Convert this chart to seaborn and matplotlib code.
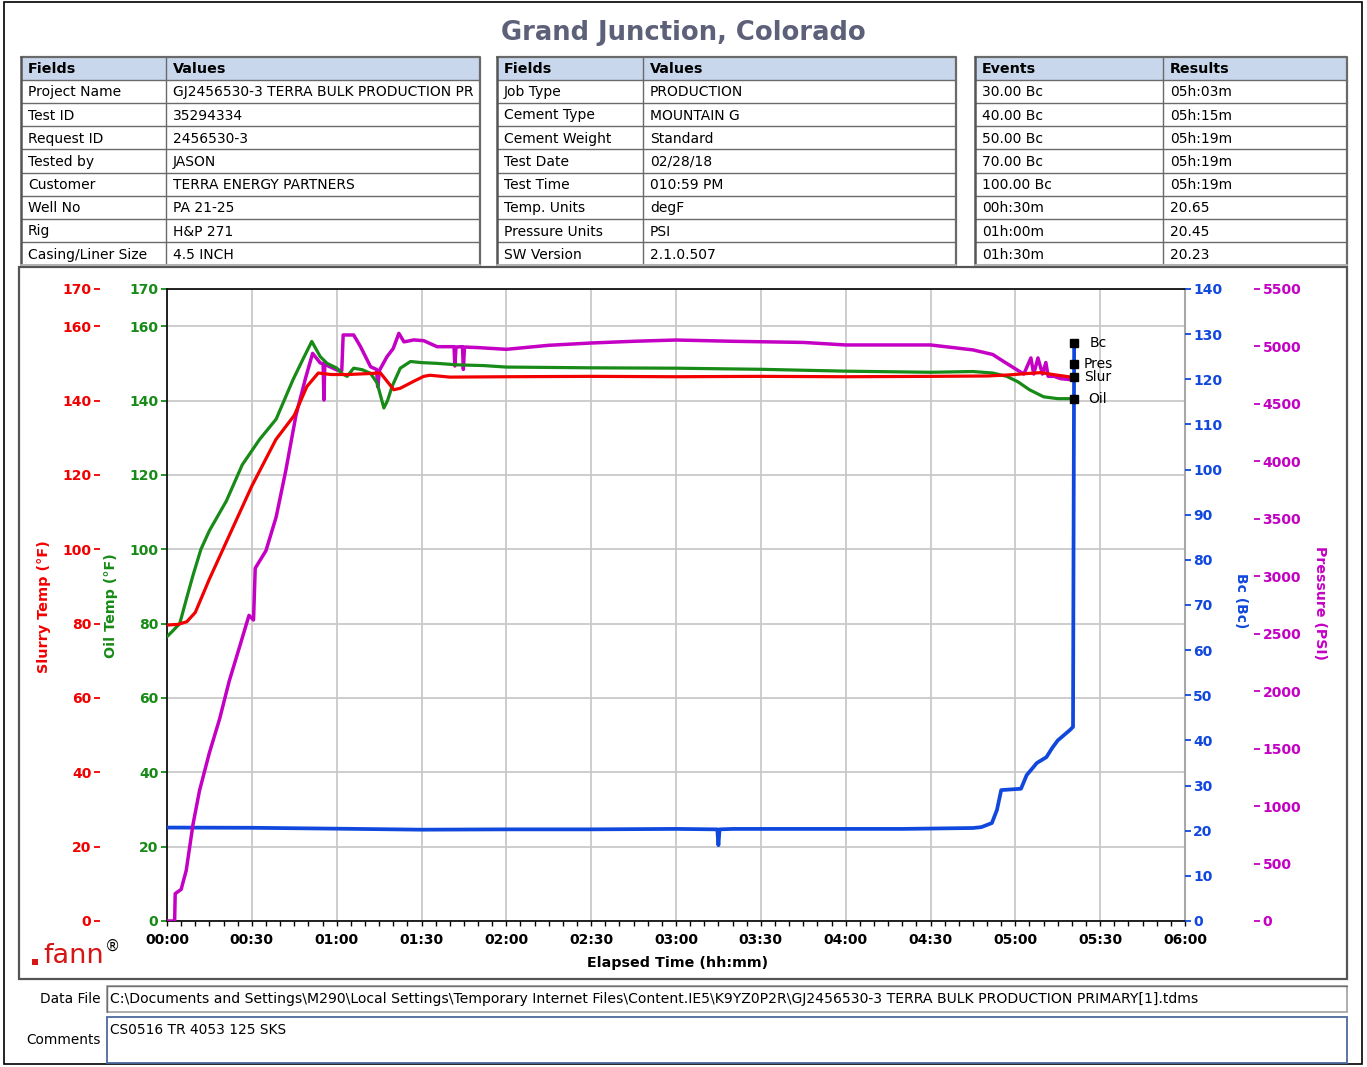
import numpy as np
import pandas as pd
import matplotlib
matplotlib.use("Agg")
import matplotlib.pyplot as plt
from matplotlib.patches import Rectangle
from matplotlib.ticker import MultipleLocator, FuncFormatter
import seaborn as sns

# ---------------- data ----------------
title = "Grand Junction, Colorado"

fields1 = ["Project Name", "Test ID", "Request ID", "Tested by", "Customer",
           "Well No", "Rig", "Casing/Liner Size"]
values1 = ["GJ2456530-3 TERRA BULK PRODUCTION PR", "35294334", "2456530-3", "JASON",
           "TERRA ENERGY PARTNERS", "PA 21-25", "H&P 271", "4.5 INCH"]
fields2 = ["Job Type", "Cement Type", "Cement Weight", "Test Date", "Test Time",
           "Temp. Units", "Pressure Units", "SW Version"]
values2 = ["PRODUCTION", "MOUNTAIN G", "Standard", "02/28/18", "010:59 PM",
           "degF", "PSI", "2.1.0.507"]
events = ["30.00 Bc", "40.00 Bc", "50.00 Bc", "70.00 Bc", "100.00 Bc",
          "00h:30m", "01h:00m", "01h:30m"]
results = ["05h:03m", "05h:15m", "05h:19m", "05h:19m", "05h:19m",
           "20.65", "20.45", "20.23"]

data_file = r"C:\Documents and Settings\M290\Local Settings\Temporary Internet Files\Content.IE5\K9YZ0P2R\GJ2456530-3 TERRA BULK PRODUCTION PRIMARY[1].tdms"
comments = "CS0516 TR 4053 125 SKS"

# elapsed time in minutes
slurry_t = [0, 4, 7, 10, 15, 21, 30, 38.5, 45, 49.5, 53.5, 58, 64, 70, 75.5, 77.8, 80.2,
            82.5, 87.3, 90.8, 93, 100, 120, 150, 180, 210, 240, 270, 290, 298, 303, 309,
            315, 320.8]
slurry_v = [79.6, 79.8, 80.5, 83, 92, 102, 117, 129.5, 136, 143.8, 147.4, 147, 147, 147.2,
            147.4, 145.2, 142.9, 143.3, 145.2, 146.5, 146.8, 146.3, 146.4, 146.5, 146.4,
            146.5, 146.4, 146.5, 146.6, 146.9, 147.2, 147.5, 146.8, 146.2]

oil_t = [0, 2, 4.5, 7, 9.2, 12, 15, 21, 26.6, 32.7, 38.6, 44.5, 48, 51.2, 54.2, 56.6, 60.1,
         61.7, 63.7, 66, 69, 72, 74.3, 76.7, 78, 79.6, 82.5, 86.1, 90, 95.5, 102.6, 112,
         120, 150, 180, 210, 240, 270, 285, 292, 297, 301, 305, 310, 315, 320.8]
oil_v = [76.5, 78, 80, 87, 93, 100, 105, 113, 122.7, 129.5, 135, 145.5, 151, 155.9, 151.8,
         150, 148.7, 147.3, 146.5, 148.7, 148.3, 147.3, 144.7, 138, 140, 143.8, 148.7,
         150.5, 150.2, 150, 149.6, 149.4, 149, 148.8, 148.7, 148.4, 147.9, 147.6, 147.8,
         147.4, 146.5, 145, 142.9, 141, 140.5, 140.5]

bc_t = [0, 30, 60, 90, 120, 150, 180, 194.6, 195.0, 195.4, 200, 230, 260, 285, 288, 291.7,
        293.5, 295, 302, 304, 307.6, 311, 313, 315, 319.3, 320.4, 320.8]
bc_v = [20.7, 20.65, 20.45, 20.23, 20.3, 20.3, 20.4, 20.3, 16.8, 20.3, 20.4, 20.4, 20.4,
        20.6, 20.8, 21.7, 24.6, 29, 29.3, 32.3, 35, 36.3, 38.3, 40, 42.3, 43, 128]

pres_t = [0, 2.7, 2.9, 5, 6.8, 9.2, 11.5, 15, 18.6, 22, 25.6, 29, 30.6, 31.2, 35, 38.6, 42,
          45.6, 49, 51.5, 54.2, 55.2, 55.5, 55.8, 57, 60.1, 61.8, 62.3, 66, 68.4, 72, 74.1,
          74.5, 75.2, 77.8, 80, 82, 83.8, 87.3, 90.8, 95.5, 101.5, 101.8, 102.2, 104.5,
          104.8, 105.2, 110, 120, 135, 150, 165, 180, 200, 225, 240, 270, 285, 292, 296,
          301, 303, 305.5, 306.5, 308, 309.6, 310.8, 311.6, 313.7, 316, 320.8]
pres_v = [0, 0, 238, 275, 440, 842, 1135, 1465, 1758, 2088, 2381, 2660, 2620, 3070, 3223,
          3516, 3919, 4400, 4725, 4940, 4856, 4850, 4534, 4850, 4830, 4795, 4790, 5100,
          5100, 5000, 4823, 4800, 4650, 4795, 4911, 4982, 5114, 5040, 5057, 5050, 4998,
          4998, 4830, 4995, 4998, 4800, 4995, 4990, 4975, 5010, 5030, 5045, 5056, 5045,
          5035, 5013, 5013, 4970, 4930, 4867, 4790, 4760, 4900, 4760, 4900, 4760, 4860,
          4740, 4740, 4720, 4708]

end_names = ["Bc", "Pres", "Slur", "Oil"]
end_t = [320.8, 320.8, 320.8, 320.8]
end_vals = [128, 4850, 146.2, 140.5]

temp_ticks = [0, 20, 40, 60, 80, 100, 120, 140, 160, 170]
bc_ticks = list(range(0, 141, 10))
pres_ticks = list(range(0, 5501, 500))
time_ticks = list(range(0, 361, 30))

# ---------------- style ----------------
sns.set_style("white")
plt.rcParams["font.family"] = ["DejaVu Sans"]

RED = "#f20000"
GREEN = "#178a17"
BLUE = "#1048de"
MAG = "#c400c4"
TITLE_C = "#5c6079"

W, H = 1367, 1067
fig = plt.figure(figsize=(W / 100, H / 100), dpi=100)
fig.patch.set_facecolor("white")

bg = fig.add_axes([0, 0, 1, 1])
bg.set_xlim(0, W)
bg.set_ylim(H, 0)
bg.axis("off")
bg.set_zorder(0)

# outer frame and chart box
bg.add_patch(Rectangle((4, 2), 1358, 1062, fill=False, edgecolor="black", lw=1.2))
bg.add_patch(Rectangle((19, 267), 1328, 712, fill=False, edgecolor="#555555", lw=1.6))

bg.text(683, 33, title, ha="center", va="center", fontsize=18.6, fontweight="bold",
        color=TITLE_C)


def draw_table(x0, x1, x2, y0, header, col1, col2, rh=23.2):
    n = len(col1) + 1
    yb = y0 + n * rh
    bg.add_patch(Rectangle((x0, y0), x2 - x0, rh, facecolor="#c8d7ec", edgecolor="none"))
    for i in range(1, n):
        y = y0 + i * rh
        bg.plot([x0, x2], [y, y], color="#6a6a6a", lw=1.0)
    bg.plot([x1, x1], [y0, yb], color="#6a6a6a", lw=1.0)
    bg.plot([x0, x2, x2], [y0, y0, yb], color="#6a6a6a", lw=1.6)
    bg.plot([x0, x0], [y0, yb], color="#555555", lw=1.8)
    bg.plot([x0, x2], [yb, yb], color="#b0b0b0", lw=1.4)
    bg.text(x0 + 7, y0 + rh / 2 + 1, header[0], ha="left", va="center",
            fontsize=10.3, fontweight="bold", color="black")
    bg.text(x1 + 7, y0 + rh / 2 + 1, header[1], ha="left", va="center",
            fontsize=10.3, fontweight="bold", color="black")
    for i, (a, b) in enumerate(zip(col1, col2)):
        yc = y0 + (i + 1.5) * rh + 1
        bg.text(x0 + 7, yc, a, ha="left", va="center", fontsize=10, color="black")
        bg.text(x1 + 7, yc, b, ha="left", va="center", fontsize=10, color="black")


draw_table(21, 166, 480, 56.5, ("Fields", "Values"), fields1, values1)
draw_table(497, 643, 956, 56.5, ("Fields", "Values"), fields2, values2)
draw_table(975, 1163, 1347, 56.5, ("Events", "Results"), events, results)

# bottom boxes
bg.text(101, 999, "Data File", ha="right", va="center", fontsize=9.9, color="black")
bg.add_patch(Rectangle((107, 986), 1240, 26, facecolor="white", edgecolor="#a0a0a0", lw=1.2))
bg.plot([107, 107, 1347], [1012, 986, 986], color="#707070", lw=1.0)
bg.text(110, 999.5, data_file, ha="left", va="center", fontsize=10.1, color="black")
bg.text(101, 1040, "Comments", ha="right", va="center", fontsize=9.8, color="black")
bg.add_patch(Rectangle((107, 1017), 1240, 46, facecolor="white", edgecolor="#4d6a9c", lw=1.3))
bg.text(110, 1030, comments, ha="left", va="center", fontsize=9.9, color="black")

# fann logo
bg.add_patch(Rectangle((32, 959), 6, 6, facecolor="#d61515", edgecolor="none"))
bg.text(43, 956, "fann", ha="left", va="center", fontsize=19.5, color="#d61515")
bg.text(105, 946, "®", ha="left", va="center", fontsize=11, color="black")

# axis titles
bg.text(44, 607, "Slurry Temp (°F)", rotation=90, ha="center", va="center",
        fontsize=10.4, fontweight="bold", color=RED)
bg.text(111, 606, "Oil Temp (°F)", rotation=90, ha="center", va="center",
        fontsize=10.3, fontweight="bold", color=GREEN)
bg.text(1241, 601, "Bc (Bc)", rotation=270, ha="center", va="center",
        fontsize=10, fontweight="bold", color=BLUE)
bg.text(1320, 603, "Pressure (PSI)", rotation=270, ha="center", va="center",
        fontsize=10.2, fontweight="bold", color=MAG)
bg.text(678, 963, "Elapsed Time (hh:mm)", ha="center", va="center",
        fontsize=10.3, fontweight="bold", color="black")

# ---------------- main plot ----------------
L, R, T, B = 167, 1185, 289, 921
ax = fig.add_axes([L / W, (H - B) / H, (R - L) / W, (B - T) / H])
ax.set_zorder(2)
ax.patch.set_visible(False)

ax.set_xlim(0, 360)
ax.set_ylim(0, 170)
ax.set_xticks(time_ticks)
ax.xaxis.set_minor_locator(MultipleLocator(5))
ax.xaxis.set_major_formatter(FuncFormatter(lambda v, p: f"{int(v // 60):02d}:{int(v % 60):02d}"))
ax.set_yticks(temp_ticks)
ax.grid(True, color="#c9c9c9", lw=1.3)
ax.tick_params(axis="x", which="both", direction="out", length=3.5, width=1.0,
               colors="black", labelsize=10, pad=5, bottom=True)
ax.tick_params(axis="y", direction="out", length=4.3, width=1.3, colors=GREEN,
               labelsize=10, pad=2, left=True)
for lab in ax.get_xticklabels() + ax.get_yticklabels():
    lab.set_fontweight("bold")
for s in ("left", "bottom", "top"):
    ax.spines[s].set_color("#111111")
    ax.spines[s].set_linewidth(1.3)
ax.spines["right"].set_color("#a8a8a8")
ax.spines["right"].set_linewidth(1.5)

# Bc axis (right)
ax_bc = ax.twinx()
ax_bc.set_zorder(3)
ax_bc.set_ylim(0, 140)
ax_bc.set_yticks(bc_ticks)
ax_bc.tick_params(axis="y", direction="out", length=4.3, width=1.3, colors=BLUE,
                  labelsize=10, pad=1.5)
for lab in ax_bc.get_yticklabels():
    lab.set_fontweight("bold")
for s in ax_bc.spines.values():
    s.set_visible(False)

# Pressure axis (right, outward)
ax_p = ax.twinx()
ax_p.set_zorder(4)
ax_p.spines["right"].set_position(("outward", 50))
ax_p.set_ylim(0, 5500)
ax_p.set_yticks(pres_ticks)
ax_p.tick_params(axis="y", direction="out", length=4.3, width=1.3, colors=MAG,
                 labelsize=10, pad=1.5)
for lab in ax_p.get_yticklabels():
    lab.set_fontweight("bold")
for s in ax_p.spines.values():
    s.set_visible(False)

# Temperature lines axis (slurry ticks on left, outward)
ax_t = ax.twinx()
ax_t.set_zorder(5)
ax_t.yaxis.tick_left()
ax_t.spines["left"].set_position(("outward", 48.2))
ax_t.set_ylim(0, 170)
ax_t.set_yticks(temp_ticks)
ax_t.tick_params(axis="y", direction="out", length=4.3, width=1.3, colors=RED,
                 labelsize=10, pad=2, left=True, right=False, labelleft=True,
                 labelright=False)
for lab in ax_t.get_yticklabels():
    lab.set_fontweight("bold")
for s in ax_t.spines.values():
    s.set_visible(False)

df_bc = pd.DataFrame({"t": bc_t, "v": bc_v})
df_p = pd.DataFrame({"t": pres_t, "v": pres_v})
df_oil = pd.DataFrame({"t": oil_t, "v": oil_v})
df_sl = pd.DataFrame({"t": slurry_t, "v": slurry_v})

sns.lineplot(data=df_bc, x="t", y="v", ax=ax_bc, color=BLUE, lw=2.7, sort=False,
             estimator=None, legend=False)
sns.lineplot(data=df_p, x="t", y="v", ax=ax_p, color=MAG, lw=2.5, sort=False,
             estimator=None, legend=False)
sns.lineplot(data=df_oil, x="t", y="v", ax=ax_t, color=GREEN, lw=2.3, sort=False,
             estimator=None, legend=False)
sns.lineplot(data=df_sl, x="t", y="v", ax=ax_t, color=RED, lw=2.3, sort=False,
             estimator=None, legend=False)

for a in (ax, ax_bc, ax_p, ax_t):
    a.set_xlabel("")
    a.set_ylabel("")
ax.set_xlim(0, 360)

# end-of-trace markers
end_axes = [ax_bc, ax_p, ax_t, ax_t]
for name, tt, vv, a in zip(end_names, end_t, end_vals, end_axes):
    a.plot([tt], [vv], marker="s", ms=5.5, color="black", zorder=10, clip_on=False)
    a.annotate(name, xy=(tt, vv), xytext=(17, 0), textcoords="offset points",
               ha="center", va="center", fontsize=10, color="black", zorder=10)

fig.savefig("out.png", dpi=100, facecolor="white")
